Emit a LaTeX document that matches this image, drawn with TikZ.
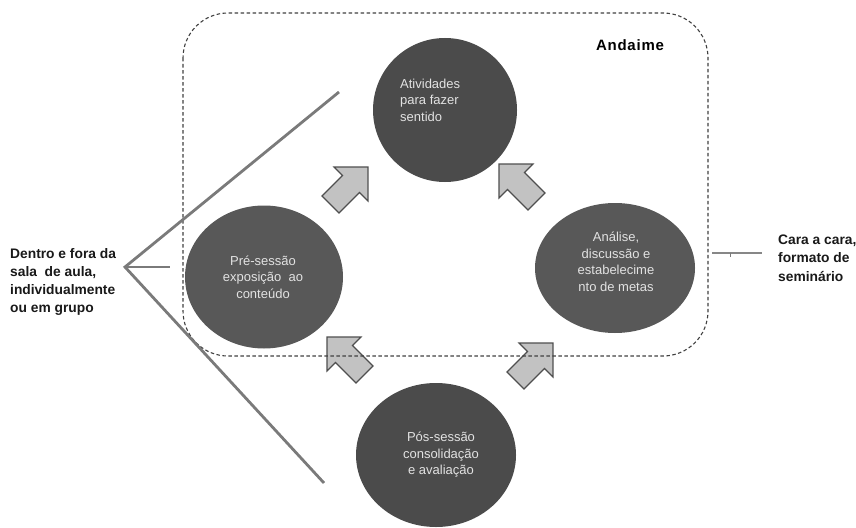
\documentclass[tikz,border=0pt]{standalone}
\usepackage{fontspec}
\setmainfont{Liberation Sans}
\usepackage{tikz}
\usetikzlibrary{shapes.geometric}

\definecolor{discdark}{HTML}{4B4B4B}
\definecolor{disclight}{HTML}{585858}
\definecolor{disctext}{HTML}{E2E2E2}
\definecolor{wedgegray}{HTML}{7A7A7A}
\definecolor{arrowfill}{HTML}{C2C2C2}
\definecolor{arrowline}{HTML}{4F4F4F}
\definecolor{framegray}{HTML}{404040}

\tikzset{
  disc/.style={ellipse, draw=none, fill=discdark, inner sep=0pt},
  disc text/.style={text=disctext, font=\fontsize{13}{16.5}\selectfont,
    align=center, inner sep=0pt},
  side label/.style={text=black!90, font=\bfseries\fontsize{13.8}{18.3}\selectfont,
    align=left, inner sep=0pt},
  wedge/.style={draw=wedgegray, line width=2.8pt},
  block arrow/.style={fill=arrowfill, draw=arrowline, line width=1.2pt},
  frame/.style={draw=framegray, line width=1.1pt, dash pattern=on 3.5pt off 2.5pt,
    rounded corners=45pt},
}

\begin{document}
\begin{tikzpicture}[x=1pt,y=-1pt]
\useasboundingbox (0,0) rectangle (856,527);

% the four stages
\node[disc, minimum width=144pt, minimum height=144pt] (atividades) at (445,110) {};
\node[disc, fill=disclight, minimum width=158pt, minimum height=143pt] (presessao) at (264,277) {};
\node[disc, fill=disclight, minimum width=160pt, minimum height=130pt] (analise) at (615,268) {};
\node[disc, minimum width=160pt, minimum height=144pt] (possessao) at (436,455) {};

\node[disc text, align=left, anchor=west] (atividades-t) at (400,100) {Atividades\\para fazer\\sentido};
\node[disc text] (presessao-t) at (263,277) {Pré-sessão\\exposição\ \ ao\\conteúdo};
\node[disc text] (analise-t) at (616,262) {Análise,\\discussão e\\estabelecime\\nto de metas};
\node[disc text] (possessao-t) at (441,455) {Pós-sessão\\consolidação\\e avaliação};

\foreach \cx/\cy/\ang in {345/190/45, 522/187/135, 350/360/135, 530/366/45}
  \draw[block arrow, shift={(\cx,\cy)}, rotate=\ang]
    (32.5,0) -- (8.5,24) -- (8.5,12) -- (-20.5,12) -- (-20.5,-12)
    -- (8.5,-12) -- (8.5,-24) -- cycle;

% scaffold frame
\draw[frame] (183,13) rectangle (708,356);
\node[font=\bfseries\fontsize{15}{18}\selectfont\addfontfeature{LetterSpace=5}] (andaime) at (630,45) {Andaime};

% left: outside the classroom
\node[side label, anchor=west] (dentro) at (10,282) {Dentro e fora da\\sala\ \ de aula,\\individualmente\\ou em grupo};
\coordinate (apex) at (125,267);
\coordinate (wedge top) at (339,92);
\coordinate (wedge mid) at (170,267);
\coordinate (wedge low) at (324,483);
\draw[wedge] (wedge top) -- (apex) -- (wedge low);
\draw[wedge] (apex) -- (wedge mid);

% right: face to face
\node[side label, anchor=west] (cara) at (778,258) {Cara a cara,\\formato de\\seminário};
\coordinate (frame east) at (712,253);
\coordinate (cara tip) at (762,253);
\draw[draw=wedgegray!90, line width=1.8pt] (frame east) -- (cara tip);
\draw[draw=wedgegray, line width=0.8pt] (730,253) -- (730,256.5);
\end{tikzpicture}
\end{document}
